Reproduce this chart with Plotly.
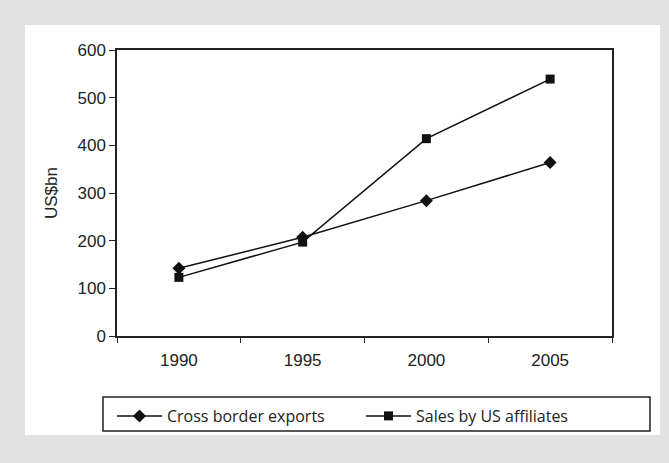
import plotly.graph_objects as go

years = ["1990", "1995", "2000", "2005"]
cross_border_exports = [142, 207, 284, 364]
sales_by_us_affiliates = [123, 197, 414, 539]
y_ticks = [0, 100, 200, 300, 400, 500, 600]

# plot-area pixel frame used to place decorations in paper units
L, R, T, B = 117, 612, 50, 336
W, H = R - L, B - T


def px_x(p):
    return (p - L) / W


def px_y(p):
    return (B - p) / H


fig = go.Figure()
fig.add_trace(go.Scatter(
    x=years, y=cross_border_exports, name="Cross border exports",
    mode="lines+markers",
    line=dict(color="#111111", width=1.5),
    marker=dict(symbol="diamond", size=10, color="#111111"),
))
fig.add_trace(go.Scatter(
    x=years, y=sales_by_us_affiliates, name="Sales by US affiliates",
    mode="lines+markers",
    line=dict(color="#111111", width=1.5),
    marker=dict(symbol="square", size=9, color="#111111"),
))

shapes = [
    # white card on the grey page
    dict(type="rect", xref="paper", yref="paper", layer="below",
         x0=px_x(25), x1=px_x(660), y0=px_y(435), y1=px_y(25),
         fillcolor="white", line=dict(width=0)),
    # legend frame
    dict(type="rect", xref="paper", yref="paper",
         x0=px_x(103), x1=px_x(650), y0=px_y(431), y1=px_y(397),
         fillcolor="rgba(0,0,0,0)", line=dict(color="#222222", width=1.5)),
]

fig.update_layout(
    width=669, height=463,
    margin=dict(l=L, r=669 - R, t=T, b=463 - B),
    paper_bgcolor="#e2e2e2",
    plot_bgcolor="white",
    font=dict(family="Liberation Sans, Arial, sans-serif", color="#222222"),
    shapes=shapes,
    showlegend=True,
    legend=dict(
        orientation="h", x=px_x(112), y=px_y(399), xanchor="left", yanchor="top",
        font=dict(family="Open Sans, sans-serif", size=16, color="#222222"),
        bgcolor="rgba(0,0,0,0)", borderwidth=0,
        entrywidth=189, entrywidthmode="pixels",
        itemwidth=45,
    ),
    xaxis=dict(
        type="category", range=[-0.5, 3.5],
        tickson="boundaries", ticks="outside", ticklen=5, tickcolor="#222222",
        showline=True, linecolor="#222222", linewidth=1.5, mirror=True,
        showgrid=False, zeroline=False,
        tickfont=dict(size=17), ticklabelstandoff=8,
    ),
    yaxis=dict(
        range=[0, 600], tickvals=y_ticks,
        ticks="outside", ticklen=6, tickcolor="#222222",
        showline=True, linecolor="#222222", linewidth=1.5, mirror=True,
        showgrid=False, zeroline=False,
        tickfont=dict(size=17),
        title=dict(text="US$bn", font=dict(size=17), standoff=16),
    ),
)

fig.write_html("out.html")
